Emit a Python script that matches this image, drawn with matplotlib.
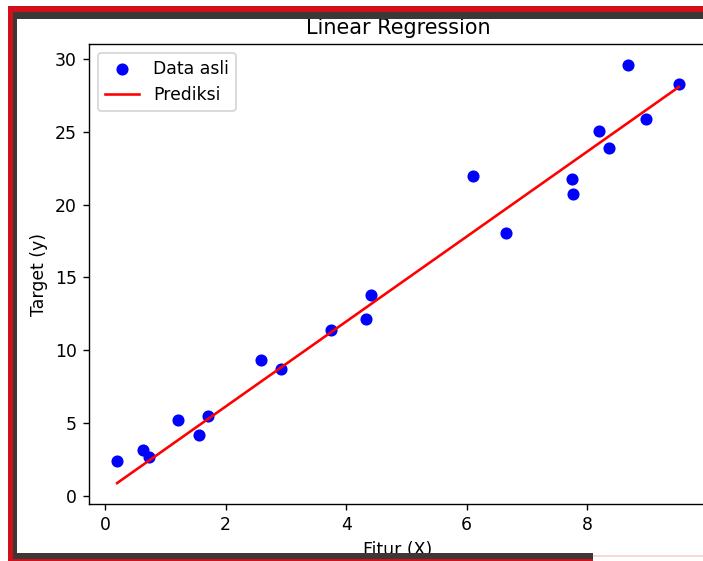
import matplotlib
matplotlib.use("Agg")
import matplotlib.pyplot as plt
from matplotlib.patches import Rectangle

# data
x_data = [0.20, 0.63, 0.73, 1.21, 1.56, 1.71, 2.59, 2.92, 3.75, 4.33,
          4.41, 6.10, 6.65, 7.74, 7.76, 8.19, 8.36, 8.67, 8.97, 9.52]
y_data = [2.40, 3.16, 2.68, 5.20, 4.19, 5.49, 9.33, 8.72, 11.40, 12.15,
          13.80, 21.96, 18.05, 21.76, 20.73, 25.05, 23.88, 29.58, 25.87, 28.28]
line_x = [0.20, 9.52]
line_y = [0.89, 28.07]

W, H = 703, 561
DPI = 124.5
fig = plt.figure(figsize=(W / DPI, H / DPI), dpi=DPI)

# axes placed in pixels (left, bottom, right, top)
l, b, r, t = 89, 561 - 504, 707, 561 - 44
ax = fig.add_axes([l / W, b / H, (r - l) / W, (t - b) / H])

ax.scatter(x_data, y_data, color="blue", label="Data asli")
ax.plot(line_x, line_y, color="red", label="Prediksi")
ax.set_title("Linear Regression")
ax.set_xlabel("Fitur (X)")
ax.set_ylabel("Target (y)")
ax.legend(loc="upper left")


# screenshot window frame
def px_rect(x0, y0, w, h, color):
    fig.add_artist(Rectangle((x0 / W, 1 - (y0 + h) / H), w / W, h / H,
                             transform=fig.transFigure, color=color,
                             zorder=10, linewidth=0))


red = "#d0111b"
dark = "#3b3836"
px_rect(0, 0, 8, H, "white")
px_rect(0, 0, W, 6, "white")
px_rect(8, 6, W - 8, 6, red)
px_rect(8, 6, 5, H - 6, red)
px_rect(13, 12, W - 13, 7, dark)
px_rect(13, 12, 4, H - 12, dark)
px_rect(13, 553, 580, 6, dark)
px_rect(13, 559, 580, 2, red)
px_rect(593, 555, W - 593, 2, "#f6d9d6")

fig.savefig("out.png", dpi=DPI)
